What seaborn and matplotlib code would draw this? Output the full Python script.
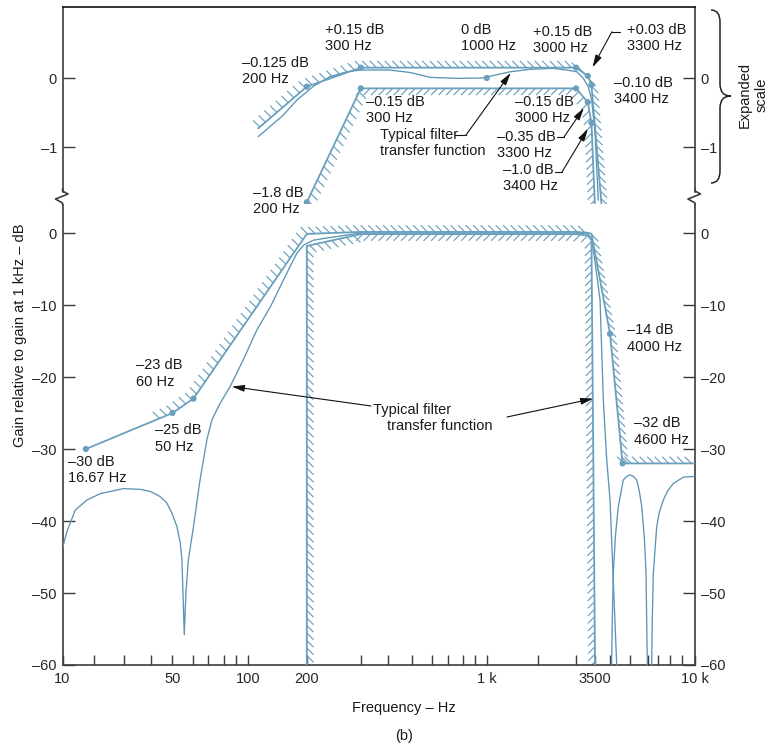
import numpy as np
import matplotlib
matplotlib.use("Agg")
import matplotlib.pyplot as plt
import seaborn as sns
from matplotlib.collections import LineCollection
from matplotlib.lines import Line2D
from matplotlib.path import Path
from matplotlib.patches import PathPatch

# Frequency axis of the original is hand drawn: tick frequencies and where they sit (pixels)
cal_f = [10, 20, 30, 40, 50, 60, 70, 80, 90, 100, 200, 300, 400, 500, 600, 700, 800, 900,
         1000, 2000, 3000, 3500, 4000, 5000, 6000, 7000, 8000, 9000, 10000]
cal_px = [62.3, 94, 124, 150.7, 172.3, 193.3, 208.3, 224.3, 236, 247.7, 306.7, 360.7, 388.3,
          411.7, 431.7, 448.3, 462.7, 475, 486.7, 537.7, 576, 595, 610, 630, 647.7, 658, 670,
          681.7, 695]

major_f = [10, 50, 100, 200, 1000, 3500, 10000]
major_lbl = ["10", "50", "100", "200", "1 k", "3500", "10 k"]
minor_f = [20, 30, 40, 60, 70, 80, 90, 300, 400, 500, 600, 700, 800, 900,
           2000, 3000, 4000, 5000, 6000, 7000, 8000, 9000]
main_yticks = [0, -10, -20, -30, -40, -50, -60]
exp_yticks = [0, -1]

# main panel: typical filter response
curve_f = [10, 11, 13.2, 17, 21.7, 29.7, 35.6, 39.8, 44, 47.2, 49.7, 52, 53.5, 54.3, 55.4,
           56.2, 57.4, 60, 62.1, 64.2, 66.5, 69, 72, 77, 84.8, 96, 111, 130.6, 146, 164, 178,
           192, 210, 232, 300, 1000, 3000, 3300, 3400, 3500, 3660, 3768, 3885, 4000, 4310, 4400]
curve_db = [-43.8, -41.5, -38.5, -37.1, -36.2, -35.5, -35.6, -35.9, -36.6, -37.5, -38.9,
            -40.8, -43.1, -45.4, -55.8, -50, -45.4, -40.8, -37.5, -34.3, -31.5, -28.6, -26,
            -23.7, -21.3, -17.6, -13.5, -10.2, -7.5, -4.7, -2.8, -1.7, -1.0, -0.7, 0, 0, 0,
            -0.1, -0.8, -4, -9.3, -23.2, -31.5, -37.1, -60, -64]
# stop band lobes
lobe_f = [4060, 4100, 4150, 4250, 4387, 4638, 4820, 5000, 5170, 5358, 5500, 5641, 5800, 5896,
          5990, 6350, 6420, 6523, 6865, 7100, 7422, 7800, 8270, 9130, 10000]
lobe_db = [-62, -54, -47.3, -42, -38, -34.3, -33.8, -33.6, -33.8, -34.3, -35.8, -38, -42.5,
           -47.2, -62, -62, -54, -47.3, -40.8, -38.8, -37.1, -35.8, -34.8, -33.9, -33.8]
# main panel: loss mask
ceil_f = [16.67, 50, 60, 200, 300, 3000, 3300, 3400, 4000, 4600, 10000]
ceil_db = [-30, -25, -23, -0.125, 0.15, 0.15, 0.03, -0.10, -14, -32, -32]
floor_f = [200, 200, 300, 3000, 3300, 3400, 3500]
floor_db = [-60, -1.8, -0.15, -0.15, -0.35, -1.0, -60]
mark_f = [16.67, 50, 60, 4000, 4600]
mark_db = [-30, -25, -23, -14, -32]

# expanded scale panel
exp_curve_f = [113, 150, 178, 210, 238, 270, 300, 405, 492, 591, 757, 955, 1373, 1801, 2352,
               2715, 3020, 3183, 3314, 3407, 3500, 3604]
exp_curve_db = [-0.85, -0.55, -0.32, -0.12, 0.02, 0.09, 0.116, 0.116, 0.08, 0.01, -0.005, 0,
                0.09, 0.126, 0.14, 0.116, 0.09, -0.005, -0.126, -0.32, -0.8, -1.77]
exp_ceil_f = [113, 200, 300, 3000, 3300, 3400, 3720]
exp_ceil_db = [-0.73, -0.125, 0.15, 0.15, 0.03, -0.10, -1.9]
exp_floor_f = [200, 300, 3000, 3300, 3400, 3500]
exp_floor_db = [-1.8, -0.15, -0.15, -0.35, -0.65, -1.9]
exp_mark_f = [200, 300, 3000, 3300, 3400, 200, 300, 3000, 3300, 3400, 1000]
exp_mark_db = [-0.125, 0.15, 0.15, 0.03, -0.10, -1.8, -0.15, -0.15, -0.35, -0.65, 0]

W, H = 772, 747
MASK = "#6aa0bd"
CURVE = "#5b95b3"
AX = "#3c3c3c"
FS = 10.5

sns.set_style("ticks")
plt.rcParams["font.family"] = ["Liberation Sans", "DejaVu Sans"]
plt.rcParams["text.color"] = "#1a1a1a"

lf = np.log10(cal_f)


def fwd(f):
    f = np.asarray(f, dtype=float)
    return np.interp(np.log10(np.where(f > 0, f, 1e-12)), lf, cal_px)


def inv(p):
    return 10 ** np.interp(np.asarray(p, dtype=float), cal_px, lf)


def fx(x, y):
    return x / W, 1 - y / H


def hatch(ax, f, db, orient, side, start_idx=0, lead=0.0, spacing=7.5, length=9.5):
    pts = ax.transData.transform(np.column_stack([f, db]).astype(float))
    seg = np.diff(pts, axis=0)
    seglen = np.hypot(seg[:, 0], seg[:, 1])
    cum = np.concatenate([[0], np.cumsum(seglen)])
    s0 = max(cum[start_idx] - lead, 0)
    s = np.arange(s0 + 2, cum[-1], spacing)
    i = np.clip(np.searchsorted(cum, s, side="right") - 1, 0, len(seg) - 1)
    frac = (s - cum[i]) / seglen[i]
    base = pts[i] + seg[i] * frac[:, None]
    tang = seg[i] / seglen[i][:, None]
    normal = side * np.column_stack([-tang[:, 1], tang[:, 0]])
    u = np.array([-1.0, 1.0]) if orient == "\\" else np.array([1.0, 1.0])
    u /= np.hypot(*u)
    sgn = np.where(normal @ u >= 0, 1.0, -1.0)
    tip = base + length * sgn[:, None] * u
    back = ax.transData.inverted()
    segs = np.stack([back.transform(base), back.transform(tip)], axis=1)
    ax.add_collection(LineCollection(segs, colors=MASK, linewidths=0.85, zorder=2))


fig = plt.figure(figsize=(W / 100, H / 100), dpi=100)
x0, xw = 62.5 / W, (695 - 62.5) / W
ax_top = fig.add_axes([x0, 1 - 204 / H, xw, (204 - 7.3) / H])
ax_bot = fig.add_axes([x0, 1 - 665 / H, xw, (665 - 204) / H])

for ax in (ax_top, ax_bot):
    ax.set_xscale("function", functions=(fwd, inv))
    ax.set_xlim(10, 10000)
ax_top.set_ylim(-1.826, 1.025)
ax_bot.set_ylim(-60, 4.03)

# curves and masks
line_kw = dict(estimator=None, sort=False, legend=False)
sns.lineplot(x=curve_f, y=curve_db, ax=ax_bot, color=CURVE, lw=0.95, zorder=3, **line_kw)
sns.lineplot(x=lobe_f, y=lobe_db, ax=ax_bot, color=CURVE, lw=0.95, zorder=3, **line_kw)
sns.lineplot(x=ceil_f, y=ceil_db, ax=ax_bot, color=MASK, lw=1.3, zorder=3, **line_kw)
sns.lineplot(x=floor_f, y=floor_db, ax=ax_bot, color=MASK, lw=1.3, zorder=3, **line_kw)
sns.scatterplot(x=mark_f, y=mark_db, ax=ax_bot, color=MASK, s=20, edgecolor="none", zorder=5)

sns.lineplot(x=exp_curve_f, y=exp_curve_db, ax=ax_top, color=CURVE, lw=0.95, zorder=3, **line_kw)
sns.lineplot(x=exp_ceil_f, y=exp_ceil_db, ax=ax_top, color=MASK, lw=1.3, zorder=3, **line_kw)
sns.lineplot(x=exp_floor_f, y=exp_floor_db, ax=ax_top, color=MASK, lw=1.3, zorder=3, **line_kw)
sns.scatterplot(x=exp_mark_f, y=exp_mark_db, ax=ax_top, color=MASK, s=20, edgecolor="none", zorder=5)

for ax in (ax_top, ax_bot):
    ax.set_xlim(10, 10000)
    ax.set_xlabel("")
    ax.set_ylabel("")
ax_top.set_ylim(-1.826, 1.025)
ax_bot.set_ylim(-60, 4.03)

# hatching on the forbidden side of each mask
hatch(ax_bot, ceil_f, ceil_db, "\\", 1, start_idx=1, lead=16)
hatch(ax_bot, floor_f[:3], floor_db[:3], "\\", -1)
hatch(ax_bot, floor_f[2:], floor_db[2:], "/", -1)
hatch(ax_top, exp_ceil_f, exp_ceil_db, "\\", 1)
hatch(ax_top, exp_floor_f[:2], exp_floor_db[:2], "\\", -1)
hatch(ax_top, exp_floor_f[1:], exp_floor_db[1:], "/", -1)

# axes styling
for ax in (ax_top, ax_bot):
    for sp in ax.spines.values():
        sp.set_color(AX)
        sp.set_linewidth(1.2)
    ax.tick_params(axis="y", direction="in", length=8.3, width=1, color=AX, left=True,
                   right=True, labelleft=True, labelright=True, labelsize=FS, pad=4)
ax_top.spines["bottom"].set_visible(False)
ax_top.spines["top"].set_color("#111")
ax_bot.spines["top"].set_visible(False)
ax_top.spines["left"].set_bounds(-1.652, 1.025)
ax_top.spines["right"].set_bounds(-1.652, 1.025)
ax_bot.spines["left"].set_bounds(-60, 3.89)
ax_bot.spines["right"].set_bounds(-60, 3.89)

ax_top.set_xticks([])
ax_top.set_xticks([], minor=True)
ax_top.set_yticks(exp_yticks)
ax_top.set_yticklabels([f"{v}".replace("-", "\u2013") for v in exp_yticks])
ax_bot.set_yticks(main_yticks)
ax_bot.set_yticklabels([f"{v}".replace("-", "\u2013") for v in main_yticks])
ax_bot.set_xticks(major_f)
ax_bot.set_xticklabels(major_lbl)
ax_bot.set_xticks(minor_f, minor=True)
ax_bot.tick_params(axis="x", which="both", direction="in", length=7.2, width=1, color=AX,
                   top=False, bottom=True, labelsize=FS, pad=5)

# axis break marks
for xb in (62.5, 695):
    zx = [xb, xb, xb + 5.5, xb - 7, xb, xb]
    zy = [189, 191, 194, 199, 203, 205]
    fig.add_artist(Line2D([x / W for x in zx], [1 - y / H for y in zy],
                          transform=fig.transFigure, color=AX, lw=1.2))

# brace for the expanded scale
bv = [(711, 10), (720, 10), (720, 22), (720, 84), (720, 96), (731, 96), (720, 96), (720, 108),
      (720, 171), (720, 183), (711, 183)]
bc = [Path.MOVETO, Path.CURVE3, Path.CURVE3, Path.LINETO, Path.CURVE3, Path.CURVE3,
      Path.CURVE3, Path.CURVE3, Path.LINETO, Path.CURVE3, Path.CURVE3]
fig.add_artist(PathPatch(Path([fx(*p) for p in bv], bc), transform=fig.transFigure,
                         fill=False, lw=1.1, edgecolor="#222"))
fig.text(*fx(753, 95), "Expanded\nscale", rotation=90, ha="center", va="center", fontsize=FS)

# point labels (left edge, vertical centre in pixels)
labels = [
    ("\u20130.125 dB\n200 Hz", 242, 71), ("+0.15 dB\n300 Hz", 325, 38),
    ("0 dB\n1000 Hz", 461, 38), ("+0.15 dB\n3000 Hz", 533, 40),
    ("+0.03 dB\n3300 Hz", 627, 38), ("\u20130.10 dB\n3400 Hz", 614, 91),
    ("\u20130.15 dB\n300 Hz", 366, 110), ("\u20130.15 dB\n3000 Hz", 515, 110),
    ("\u20130.35 dB\n3300 Hz", 497, 145), ("\u20131.0 dB\n3400 Hz", 503, 178),
    ("Typical filter\ntransfer function", 380, 143), ("\u20131.8 dB\n200 Hz", 253, 201),
    ("\u201323 dB\n60 Hz", 136, 373.5), ("\u201325 dB\n50 Hz", 155, 438.5),
    ("\u201330 dB\n16.67 Hz", 68, 470), ("\u201314 dB\n4000 Hz", 627, 338.5),
    ("\u201332 dB\n4600 Hz", 634, 431.5), ("Typical filter", 373, 410),
    ("transfer function", 387, 426),
]
for s, x, y in labels:
    fig.text(*fx(x, y), s, ha="left", va="center", fontsize=FS, linespacing=1.2)

# leaders and arrows
for x1, x2, y in ((455, 466, 135), (620, 612, 31.7), (557, 564, 137), (555, 562, 172)):
    fig.add_artist(Line2D([x1 / W, x2 / W], [1 - y / H] * 2, transform=fig.transFigure,
                          color="#111", lw=0.8))
arrow = "-|>,head_length=0.75,head_width=0.2"
arrows = [
    (ax_top, (1400, 0.09), (466, 135), 1), (ax_top, (3300, 0.03), (612, 31.7), 7),
    (ax_top, (3300, -0.35), (564, 137), 5), (ax_top, (3400, -0.65), (562, 172), 5),
    (ax_bot, (85, -21.3), (371, 406), 1), (ax_bot, (3450, -23), (507, 417), 0),
]
for ax, xy, start, shrink in arrows:
    ax.annotate("", xy=xy, xytext=(start[0], H - start[1]), textcoords="figure pixels",
                arrowprops=dict(arrowstyle=arrow, color="#111", lw=0.8, shrinkA=0,
                                shrinkB=shrink), annotation_clip=False)

fig.text(*fx(20, 335), "Gain relative to gain at 1 kHz \u2013 dB", rotation=90, ha="center",
         va="center", fontsize=FS)
fig.text(*fx(404, 708), "Frequency \u2013 Hz", ha="center", va="center", fontsize=FS)
fig.text(*fx(404, 736), "(b)", ha="center", va="center", fontsize=FS)

fig.savefig("out.png", dpi=100)
